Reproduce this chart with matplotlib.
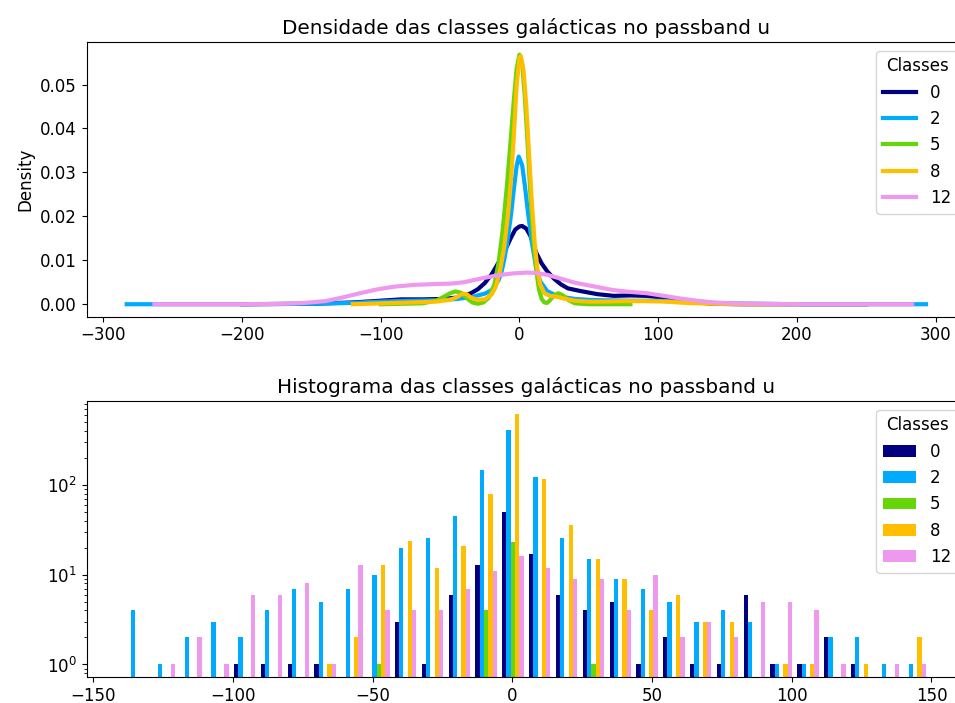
import matplotlib
matplotlib.use("Agg")
import matplotlib.pyplot as plt
import numpy as np

plt.rcParams["font.size"] = 12

classes = ["0", "2", "5", "8", "12"]
colors = ["#000080", "#00aaff", "#66d60a", "#ffbf00", "#ee99ee"]

# Kernel density of the u-band flux, sampled per class
kde_x_0 = [-200, -150, -120, -100, -85, -70, -55, -45, -35, -30, -25, -20, -15, -10, -6, -3,
           0, 2, 5, 8, 12, 16, 20, 25, 30, 35, 44, 56, 68, 80, 92, 104, 116, 128, 140, 160, 250]
kde_y_0 = [0.0, 0.0001, 0.0004, 0.0008, 0.0011, 0.0011, 0.0012, 0.0015, 0.0025, 0.0034, 0.0048,
           0.0068, 0.0095, 0.0125, 0.0152, 0.0170, 0.0177, 0.0178, 0.0172, 0.0155, 0.0118, 0.0093,
           0.0075, 0.0058, 0.0045, 0.0036, 0.0030, 0.0023, 0.0019, 0.0020, 0.0019, 0.0015, 0.0008,
           0.0004, 0.0001, 0.0, 0.0]

kde_x_2 = [-283, -200, -150, -120, -100, -80, -60, -45, -35, -25, -20, -15, -13, -11, -9, -6, -4,
           -2, -0.5, 2, 4, 6, 9, 12, 15, 20, 25, 30, 40, 50, 60, 80, 100, 120, 150, 200, 293]
kde_y_2 = [0.0, 0.0, 0.0001, 0.0003, 0.0006, 0.0008, 0.0009, 0.0012, 0.0016, 0.0024, 0.0032,
           0.0055, 0.0072, 0.0100, 0.0135, 0.0205, 0.0262, 0.0315, 0.0336, 0.0316, 0.0268, 0.0213,
           0.0140, 0.0085, 0.0052, 0.0030, 0.0022, 0.0017, 0.0012, 0.0010, 0.0009, 0.0008, 0.0008,
           0.0005, 0.0002, 0.0, 0.0]

kde_x_5 = [-100, -70, -60, -55, -50, -46, -42, -38, -34, -30, -26, -22, -18, -15, -12, -9, -6,
           -4, -2, 0, 2, 4, 6, 8, 10, 12, 14, 16, 18, 20, 22, 25, 28, 31, 35, 40, 50, 80]
kde_y_5 = [0.0, 0.0002, 0.0008, 0.0016, 0.0025, 0.0029, 0.0026, 0.0014, 0.0004, 0.0001, 0.0004,
           0.0015, 0.0045, 0.0095, 0.0170, 0.0270, 0.0385, 0.0465, 0.0536, 0.0568, 0.0546, 0.0468,
           0.0360, 0.0245, 0.0150, 0.0080, 0.0035, 0.0012, 0.0004, 0.0003, 0.0009, 0.0020, 0.0025,
           0.0021, 0.0010, 0.0002, 0.0, 0.0]

kde_x_8 = [-120, -100, -80, -60, -50, -45, -41, -38, -35, -30, -25, -20, -17, -14, -11, -8, -6,
           -4, -2, 0, 1, 3, 5, 7, 9, 11, 13, 15, 18, 22, 27, 32, 40, 50, 60, 75, 90, 105, 120, 140,
           160, 200]
kde_y_8 = [0.0, 0.0002, 0.0004, 0.0006, 0.0010, 0.0016, 0.0024, 0.0023, 0.0015, 0.0010, 0.0011,
           0.0022, 0.0040, 0.0075, 0.0130, 0.0210, 0.0285, 0.0385, 0.0498, 0.0560, 0.0565, 0.0532,
           0.0450, 0.0340, 0.0230, 0.0140, 0.0080, 0.0045, 0.0025, 0.0019, 0.0017, 0.0013, 0.0008,
           0.0006, 0.0006, 0.0007, 0.0007, 0.0006, 0.0003, 0.0001, 0.0, 0.0]

kde_x_12 = [-263, -200, -170, -155, -140, -128, -115, -102, -90, -76, -60, -49, -40, -27, -15, -5,
            5, 12, 20, 30, 40, 48, 58, 68, 80, 92, 104, 116, 128, 140, 155, 175, 200, 283]
kde_y_12 = [0.0, 0.0, 0.0001, 0.0003, 0.0007, 0.0015, 0.0025, 0.0034, 0.0040, 0.0044, 0.0046,
            0.0047, 0.0050, 0.0059, 0.0066, 0.0070, 0.0072, 0.0071, 0.0067, 0.0058, 0.0049, 0.0044,
            0.0038, 0.0032, 0.0028, 0.0025, 0.0019, 0.0013, 0.0008, 0.0004, 0.0002, 0.0001, 0.0,
            0.0]

kde_x = [kde_x_0, kde_x_2, kde_x_5, kde_x_8, kde_x_12]
kde_y = [kde_y_0, kde_y_2, kde_y_5, kde_y_8, kde_y_12]

# Histogram: 30 equal bins over the flux range, counts per class
bin_start = -139.0
bin_width = 9.6
n_bins = 30
counts_0 = [0, 0, 0, 0, 1, 1, 1, 1, 0, 0, 3, 1, 6, 13, 50, 17, 6, 4, 5, 1,
            2, 1, 1, 6, 1, 1, 2, 1, 0, 0]
counts_2 = [4, 1, 2, 3, 2, 4, 7, 5, 7, 10, 20, 26, 45, 147, 415, 123, 26, 15, 9, 7,
            5, 3, 4, 3, 1, 1, 2, 2, 1, 1]
counts_5 = [0, 0, 0, 0, 0, 0, 0, 0, 0, 1, 0, 0, 0, 4, 23, 0, 0, 1, 0, 0,
            0, 0, 0, 0, 0, 0, 0, 0, 0, 0]
counts_8 = [0, 0, 0, 0, 0, 0, 0, 1, 2, 13, 24, 12, 21, 79, 621, 117, 36, 15, 9, 4,
            6, 3, 3, 0, 1, 1, 0, 1, 0, 2]
counts_12 = [0, 1, 2, 1, 6, 6, 8, 1, 13, 4, 4, 4, 7, 11, 16, 12, 9, 9, 4, 10,
             2, 3, 2, 5, 5, 4, 1, 0, 1, 1]
counts = [counts_0, counts_2, counts_5, counts_8, counts_12]

dpi = 100
fig = plt.figure(figsize=(955 / dpi, 703 / dpi), dpi=dpi)
ax1 = fig.add_axes([0.0908, 0.5495, 0.9207, 0.3905])
ax2 = fig.add_axes([0.0908, 0.0370, 0.9207, 0.3919])

# Density panel
for xs, ys, col, lab in zip(kde_x, kde_y, colors, classes):
    ax1.plot(xs, ys, color=col, lw=3, label=lab)
ax1.set_ylabel("Density")
ax1.set_title("Densidade das classes galácticas no passband u")
ax1.set_xticks([-300, -200, -100, 0, 100, 200, 300])
ax1.legend(title="Classes", loc="upper right")

# Histogram panel
edges = bin_start + bin_width * np.arange(n_bins + 1)
centers = edges[:-1] + bin_width / 2
ax2.hist([centers] * len(classes), bins=edges, weights=counts, color=colors,
         label=classes, log=True)
ax2.set_title("Histograma das classes galácticas no passband u")
ax2.set_xticks([-150, -100, -50, 0, 50, 100, 150])
ax2.legend(title="Classes", loc="upper right")

fig.savefig("out.png", dpi=dpi)
